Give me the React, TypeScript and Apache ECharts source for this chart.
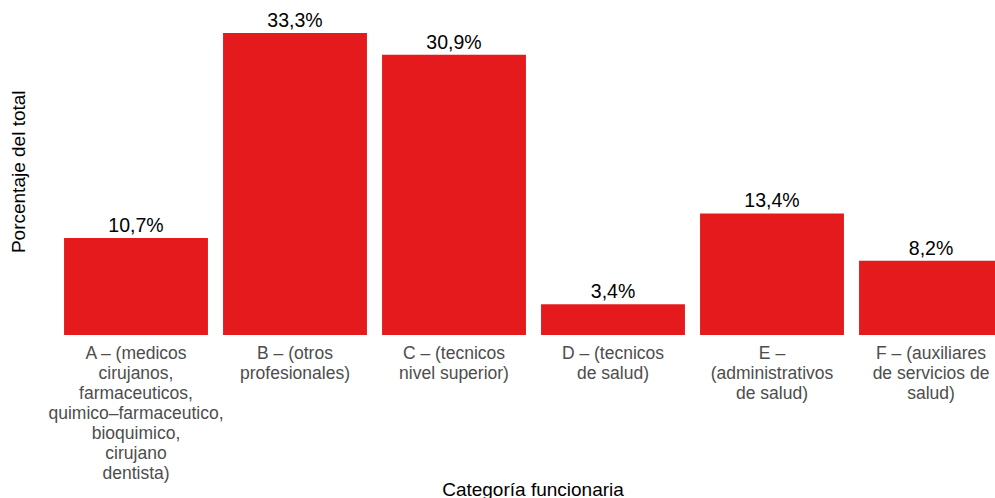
import React, { useEffect, useRef } from "react";
import * as echarts from "echarts";

const categories = [
  "A – (medicos\ncirujanos,\nfarmaceuticos,\nquimico–farmaceutico,\nbioquimico,\ncirujano\ndentista)",
  "B – (otros\nprofesionales)",
  "C – (tecnicos\nnivel superior)",
  "D – (tecnicos\nde salud)",
  "E –\n(administrativos\nde salud)",
  "F – (auxiliares\nde servicios de\nsalud)",
];
const values = [10.7, 33.3, 30.9, 3.4, 13.4, 8.2];
const xTitle = "Categoría funcionaria";
const yTitle = "Porcentaje del total";

const FONT = "'Liberation Sans', Arial, Helvetica, sans-serif";

export default function App() {
  const ref = useRef<HTMLDivElement>(null);
  useEffect(() => {
    document.body.style.margin = "0";
    const chart = echarts.init(ref.current!, null, { renderer: "svg" });
    chart.setOption({
      animation: false,
      backgroundColor: "#ffffff",
      grid: {
        left: 56.5,
        right: -15.5,
        top: 8.5,
        bottom: 163,
        containLabel: false,
        outerBoundsMode: "none",
      },
      graphic: [
        {
          type: "text",
          x: 533,
          y: 489,
          style: {
            text: xTitle,
            fontFamily: FONT,
            fontSize: 19,
            fill: "#000000",
            align: "center",
            verticalAlign: "middle",
          },
        },
      ],
      xAxis: {
        type: "category",
        data: categories,
        boundaryGap: true,
        axisLine: { show: false },
        axisTick: { show: false },
        axisLabel: {
          interval: 0,
          margin: 8,
          fontFamily: FONT,
          fontSize: 17.5,
          lineHeight: 20,
          color: "#4D4D4D",
          align: "center",
        },
      },
      yAxis: {
        type: "value",
        min: 0,
        max: 36,
        name: yTitle,
        nameLocation: "middle",
        nameGap: 28.5,
        nameTextStyle: { fontFamily: FONT, fontSize: 19, color: "#000000" },
        axisLine: { show: false },
        axisTick: { show: false },
        axisLabel: { show: false },
        splitLine: { show: false },
      },
      series: [
        {
          type: "bar",
          data: values,
          barWidth: "90.5%",
          itemStyle: { color: "#E41A1C" },
          label: {
            show: true,
            position: "top",
            distance: 3,
            fontFamily: FONT,
            fontSize: 19.5,
            color: "#000000",
            formatter: (p: any) => p.value.toFixed(1).replace(".", ",") + "%",
          },
        },
      ],
    });
    return () => chart.dispose();
  }, []);
  return (
    <div
      ref={ref}
      style={{ position: "absolute", left: 0, top: 0, width: 995, height: 498 }}
    />
  );
}
